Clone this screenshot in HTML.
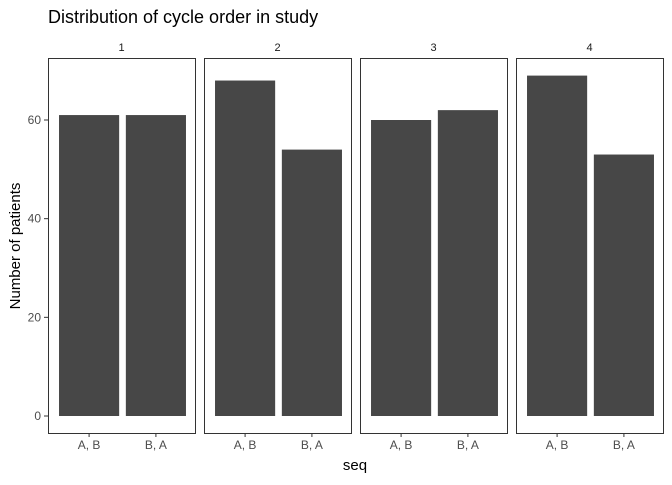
<!DOCTYPE html>
<html><head><meta charset="utf-8"><style>
body{margin:0;background:#fff;}
svg text{font-family:"Liberation Sans",Arial,sans-serif;}
</style></head><body>
<svg id="chart" width="672" height="480" xmlns="http://www.w3.org/2000/svg">
<text x="48" y="23" font-size="18" fill="#000">Distribution of cycle order in study</text>
<text x="355" y="470" font-size="15" text-anchor="middle" fill="#000">seq</text>
<text transform="translate(20,246) rotate(-90)" font-size="15" text-anchor="middle" fill="#000">Number of patients</text>
<g id="plot"></g>
</svg>
<script>
const panels = ["1","2","3","4"];
const categories = ["A, B","B, A"];
const valuesAB = [61,68,60,69];
const valuesBA = [61,54,62,53];
const yTicks = [0,20,40,60];

const NS="http://www.w3.org/2000/svg";
const plotG=document.getElementById('plot');
const panelLeft=[48,204,360,516], panelW=147, panelTop=58, panelBottom=433;
function yScale(v){return 416 - v*(416-120)/60;}
function xCenter(i,p){const u=panelW/2.2;return panelLeft[p]+1+(i+1-0.4)*u;}
function mk(tag,attrs){const e=document.createElementNS(NS,tag);for(const k in attrs)e.setAttribute(k,attrs[k]);plotG.appendChild(e);return e;}
yTicks.forEach(t=>{
  const l=mk('line',{x1:44,x2:48,y1:yScale(t),y2:yScale(t),stroke:'#333','stroke-width':1});
  
  
  const tx=mk('text',{x:41,y:yScale(t)+4,'font-size':12,'text-anchor':'end',fill:'#4d4d4d'});
  tx.textContent=t;
  
  
});
panels.forEach((p,pi)=>{
  const lab=mk('text',{x:panelLeft[pi]+panelW/2,y:51,'font-size':11,'text-anchor':'middle',fill:'#1a1a1a'});
  lab.textContent=p;
  
  
  const vals=[valuesAB[pi],valuesBA[pi]];
  const u=panelW/2.2;
  vals.forEach((v,i)=>{
    const r=mk('rect',{x:xCenter(i,pi)-0.45*u,y:yScale(v),width:0.9*u,height:yScale(0)-yScale(v),fill:'#474747'});
    
    
    const tk=mk('line',{x1:xCenter(i,pi),x2:xCenter(i,pi),y1:panelBottom,y2:panelBottom+4,stroke:'#333','stroke-width':1});
    
    
    const tl=mk('text',{x:xCenter(i,pi),y:panelBottom+16,'font-size':12,'text-anchor':'middle',fill:'#4d4d4d'});
    tl.textContent=categories[i];
    
    
  });
  const b=mk('rect',{x:panelLeft[pi]+0.5,y:panelTop+0.5,width:panelW,height:panelBottom-panelTop,fill:'none',stroke:'#333','stroke-width':1});
  
  
});
</script>
</body></html>
